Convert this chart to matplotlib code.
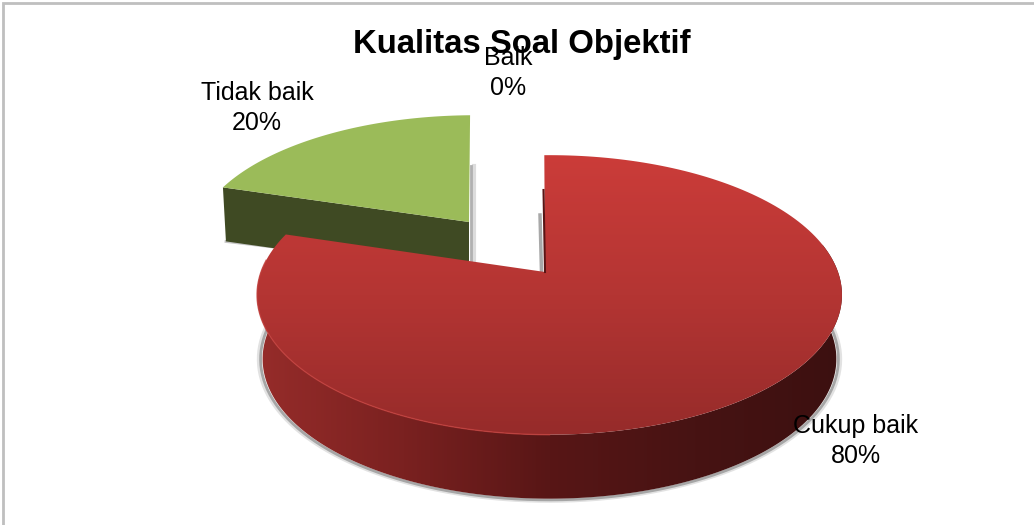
#!/usr/bin/env python3
"""3D-look exploded pie: Kualitas Soal Objektif."""
import numpy as np
import matplotlib
matplotlib.use("Agg")
import matplotlib.pyplot as plt
from matplotlib.colors import LinearSegmentedColormap
from matplotlib.patches import Polygon

TITLE = "Kualitas Soal Objektif"
labels = ["Baik", "Cukup baik", "Tidak baik"]
values = [0, 80, 20]

plt.rcParams["font.family"] = ["Liberation Sans", "DejaVu Sans"]

W, H = 1034, 525
START = -1.2  # degrees clockwise from 12 o'clock


def project(theta, g):
    """Rim point of a perspective disc, theta in degrees clockwise from the top."""
    t = np.radians(theta)
    u, v = np.sin(t), np.cos(t)
    w = 1 + g["k"] * v
    return g["x"] + g["b"] * u / w, g["y"] - g["a"] * v / w


def arc(t0, t1, g, n=200):
    x, y = project(np.linspace(t0, t1, n), g)
    return np.column_stack([x, y])


def gradient_fill(ax, verts, colors, horizontal=False, zorder=2):
    poly = Polygon(verts, closed=True, facecolor="none", edgecolor="none")
    ax.add_patch(poly)
    x0, y0 = verts.min(axis=0)
    x1, y1 = verts.max(axis=0)
    ramp = np.linspace(0, 1, 256)
    img = ramp[None, :] if horizontal else ramp[:, None]
    cmap = LinearSegmentedColormap.from_list("g", colors)
    im = ax.imshow(img, extent=[x0, x1, y1, y0], cmap=cmap, aspect="auto",
                   vmin=0, vmax=1, zorder=zorder)
    im.set_clip_path(poly)


fig = plt.figure(figsize=(W / 100, H / 100), dpi=100)
ax = fig.add_axes([0, 0, 1, 1])

# slice angles from the values
angles = np.cumsum([0] + values) * 3.6 + START
red0, red1 = angles[1], angles[2]
green0, green1 = angles[2], angles[3]

red_top = dict(x=549.5, y=272, a=136, b=288.5, k=0.164)
red_bot = dict(x=549.5, y=336, a=136, b=283, k=0.164)
green_top = dict(x=475, y=222, a=126, b=277, k=0.18)
red_apex = np.array([545, 272])
green_apex = np.array([469, 222])
green_depth = 54

# green slice
green_rim = arc(green0, green1, green_top)
left_pt = green_rim[0]
wall = np.array([left_pt, green_apex, green_apex + [0, green_depth],
                 left_pt + [3, green_depth]])
ax.plot([474, 474], [166, 262], color="#dcdcdc", lw=3, zorder=1)
ax.plot([471, 471], [166, 262], color="#b0b0b0", lw=2, zorder=1)
ax.plot([226, 290], [241.5, 249], color="#c4c4c4", lw=2, zorder=1)
ax.add_patch(Polygon(wall, closed=True, facecolor="#3f4a23", edgecolor="none", zorder=2))
ax.add_patch(Polygon(np.vstack([green_apex, green_rim]), closed=True,
                     facecolor="#9bbb59", edgecolor="none", zorder=3))

# red slice: wall first, then the top face
wall_top = arc(78, red1 - 14, red_top)
wall_bot = arc(78, red1 - 14, red_bot)
for extra, shade, lw in [(4, "#e2e2e2", 2.5), (2, "#a6a6a6", 2)]:
    shadow = arc(78, red1 - 14, dict(red_bot, b=red_bot["b"] + extra, a=red_bot["a"] + extra * 0.5))
    ax.plot(shadow[:, 0], shadow[:, 1], color=shade, lw=lw, zorder=3.5)
gradient_fill(ax, np.vstack([wall_top, wall_bot[::-1]]),
              ["#962c2a", "#7a2120", "#581616", "#471313", "#3c1010"],
              horizontal=True, zorder=4)

red_rim = arc(red0, red1, red_top)
gradient_fill(ax, np.vstack([red_apex, red_rim]), ["#cb3c39", "#b43533", "#962b2a"], zorder=5)
front = arc(180, 275, red_top)
ax.plot(front[:, 0], front[:, 1], color="#c23e3b", lw=1, alpha=0.8, zorder=6)
ax.plot([540, 541.5], [215, 272], color="#a8a8a8", lw=2.5, zorder=3)
ax.plot([543.5, 545], [190, 272], color="#5a1515", lw=1.5, zorder=6)

# text
ax.text(522, 45, TITLE, ha="center", va="center", fontsize=23.7, fontweight="bold", color="black", zorder=8)
label_pos = [(508, 73), (856, 441), (257, 108)]
for name, val, (lx, ly) in zip(labels, values, label_pos):
    ax.text(lx, ly, f"{name}\n{val}%", ha="center", va="center", fontsize=18,
            linespacing=1.35, color="black", zorder=8)

# chart area border: the reference only shows it on the top and left
ax.plot([3, 3, W], [H, 3, 3], color="#bfbfbf", lw=2, solid_joinstyle="miter", zorder=9)

ax.set_xlim(0, W)
ax.set_ylim(H, 0)
ax.axis("off")
fig.savefig("out.png", dpi=100)
